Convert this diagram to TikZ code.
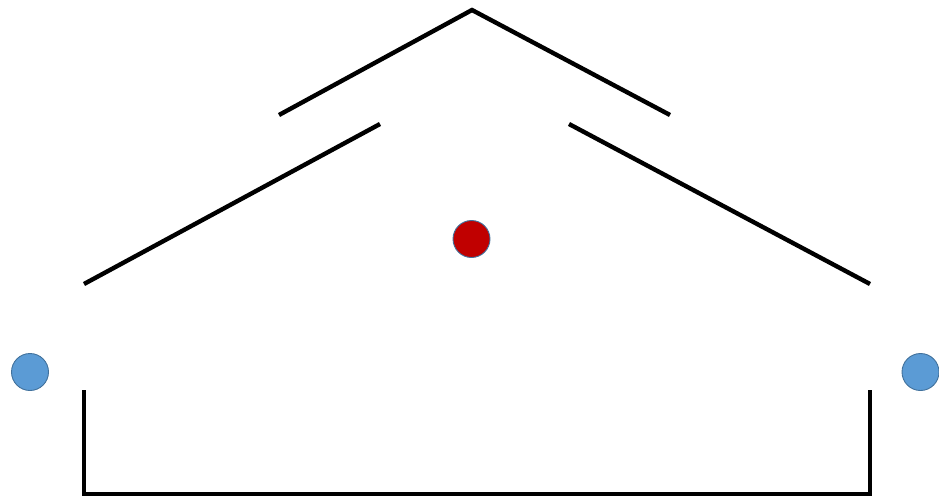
\documentclass[tikz,border=0pt]{standalone}
\begin{document}
\begin{tikzpicture}[x=1pt,y=-1pt,
  wall/.style={line width=4.4pt, line cap=butt, line join=miter},
  dot/.style={circle, minimum size=37pt, inner sep=0pt, line width=0.9pt},
  reddot/.style={dot, fill={rgb,255:red,192;green,0;blue,0}, draw={rgb,255:red,65;green,113;blue,156}},
  bluedot/.style={dot, fill={rgb,255:red,91;green,155;blue,213}, draw={rgb,255:red,65;green,113;blue,156}}]
\useasboundingbox (0,0) rectangle (939,498);
% top roof
\coordinate (tl) at (279,115);
\coordinate (apex) at (472,10);
\coordinate (tr) at (670,115);
\draw[wall] (tl) -- (apex) -- (tr);
% lower roof
\coordinate (l1) at (84,284);
\coordinate (l2) at (380,124);
\coordinate (r1) at (569,124);
\coordinate (r2) at (870,284);
\draw[wall] (l1) -- (l2);
\draw[wall] (r1) -- (r2);
% walls and floor
\coordinate (wl) at (84,390);
\coordinate (fl) at (84,494);
\coordinate (fr) at (870,494);
\coordinate (wr) at (870,390);
\draw[wall] (wl) -- (fl) -- (fr) -- (wr);
% dots
\node[reddot] (center) at (471.5,239) {};
\node[bluedot] (left) at (30,372) {};
\node[bluedot] (right) at (920.5,372) {};
\end{tikzpicture}
\end{document}
